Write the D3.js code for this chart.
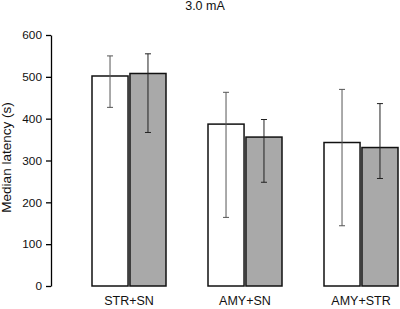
<!DOCTYPE html>
<meta charset="utf-8">
<script src="https://d3js.org/d3.v7.min.js"></script>
<style>
  body { margin: 0; background: #fff; }
  text { font-family: "Liberation Sans", Arial, sans-serif; fill: #111; }
</style>
<body>
<div id="chart"></div>
<script>
const categories = ["STR+SN", "AMY+SN", "AMY+STR"];
const series = ["open", "filled"];
const medianOpen = [502, 387, 343];
const medianFilled = [508, 356, 331];
const upperOpen = [550, 463, 470];
const lowerOpen = [427, 164, 144];
const upperFilled = [555, 398, 436];
const lowerFilled = [367, 248, 257];
const yTicks = [0, 100, 200, 300, 400, 500, 600];

const W = 400, H = 309;
const svg = d3.select("#chart").append("svg")
    .attr("width", W).attr("height", H);

const y = d3.scaleLinear().domain([0, 600]).range([286, 35]);
const x0 = d3.scaleBand().domain(categories).range([71, 419]);
const x1 = d3.scaleBand().domain(series).range([0, 74]).paddingInner(0.05);

// y axis
const yAxis = svg.append("g")
    .attr("transform", "translate(51,0)")
    .call(d3.axisLeft(y).tickValues(yTicks).tickSize(5).tickSizeOuter(0));
yAxis.select(".domain").attr("stroke", "#000").attr("stroke-width", 1.3);
yAxis.selectAll(".tick line").attr("stroke", "#000").attr("stroke-width", 1.3);
yAxis.selectAll("text").attr("font-size", 11.8).attr("x", -9)
    .style("font-family", "Liberation Sans, Arial, sans-serif").attr("fill", "#111");

svg.append("text")
    .attr("transform", "translate(11,157.5) rotate(-90)")
    .attr("text-anchor", "middle")
    .attr("font-size", 13.5)
    .text("Median latency (s)");

svg.append("text")
    .attr("x", 205).attr("y", 10)
    .attr("text-anchor", "middle")
    .attr("font-size", 12.5)
    .text("3.0 mA");

const rows = categories.map((c, i) => [
  {c, s: "open", v: medianOpen[i], hi: upperOpen[i], lo: lowerOpen[i]},
  {c, s: "filled", v: medianFilled[i], hi: upperFilled[i], lo: lowerFilled[i]}
]).flat();

const bx = d => x0(d.c) + x0.bandwidth() / 2 - 37 + x1(d.s);

svg.selectAll("rect.bar")
  .data(rows)
  .join("rect")
    .attr("class", "bar")
    .attr("x", bx)
    .attr("y", d => y(d.v))
    .attr("width", x1.bandwidth())
    .attr("height", d => y(0) - y(d.v))
    .attr("fill", d => d.s === "open" ? "#fff" : "#a9a9a9")
    .attr("stroke", "#111")
    .attr("stroke-width", 1.5);

const eb = svg.selectAll("g.err")
  .data(rows)
  .join("g")
    .attr("class", "err")
    .attr("stroke", d => d.s === "open" ? "#555" : "#222")
    .attr("stroke-width", 1);
eb.append("line")
    .attr("x1", d => bx(d) + x1.bandwidth() / 2)
    .attr("x2", d => bx(d) + x1.bandwidth() / 2)
    .attr("y1", d => y(d.hi)).attr("y2", d => y(d.lo));
eb.append("line")
    .attr("x1", d => bx(d) + x1.bandwidth() / 2 - 3)
    .attr("x2", d => bx(d) + x1.bandwidth() / 2 + 3)
    .attr("y1", d => y(d.hi)).attr("y2", d => y(d.hi));
eb.append("line")
    .attr("x1", d => bx(d) + x1.bandwidth() / 2 - 3)
    .attr("x2", d => bx(d) + x1.bandwidth() / 2 + 3)
    .attr("y1", d => y(d.lo)).attr("y2", d => y(d.lo));

svg.selectAll("text.cat")
  .data(categories)
  .join("text")
    .attr("class", "cat")
    .attr("x", d => x0(d) + x0.bandwidth() / 2)
    .attr("y", 305)
    .attr("text-anchor", "middle")
    .attr("font-size", 12.5)
    .text(d => d);
</script>
</body>
